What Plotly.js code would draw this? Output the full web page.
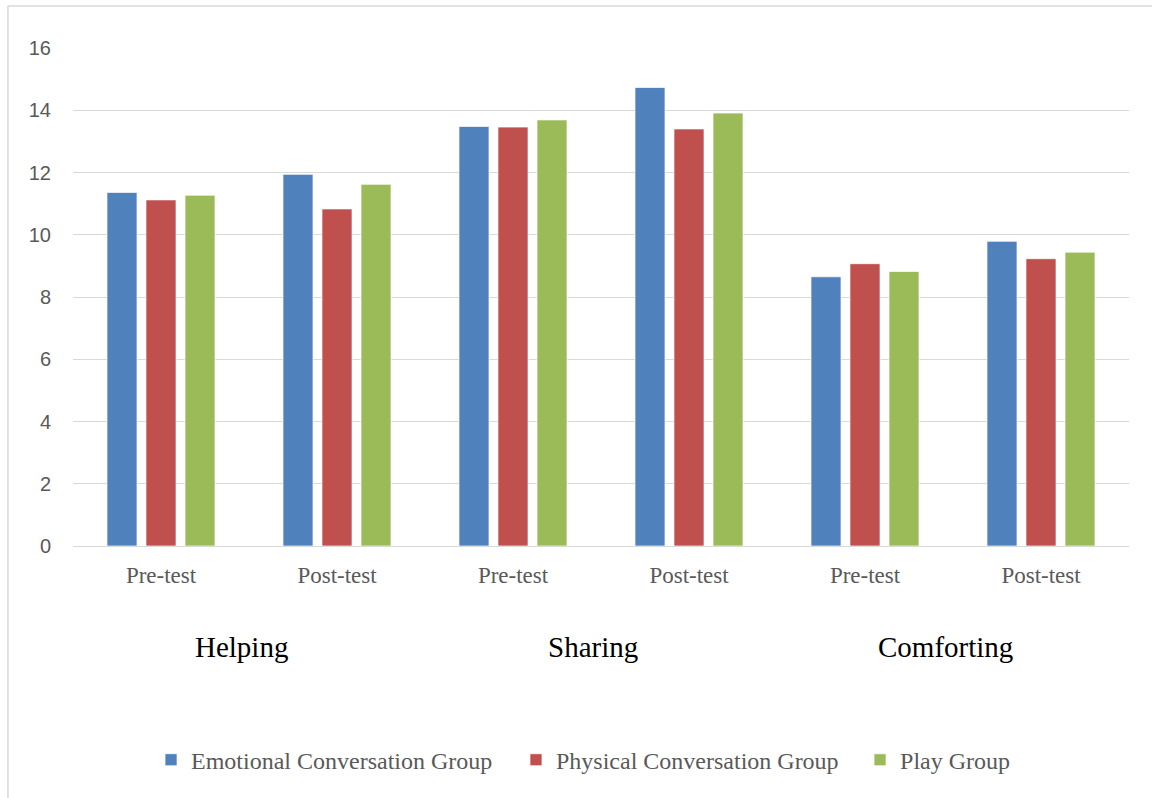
<!DOCTYPE html>
<html>
<head>
<meta charset="utf-8">
<script src="https://cdn.plot.ly/plotly-3.0.1.min.js"></script>
<style>
  html, body { margin: 0; padding: 0; background: #ffffff; }
  #chart { width: 1152px; height: 798px; }
</style>
</head>
<body>
<div id="chart"></div>
<script>
// Behaviour domains and test phases
const domains = ["Helping", "Sharing", "Comforting"];
const phases = ["Pre-test", "Post-test"];

// One category key per domain/phase pair, shown with the phase name only
const categoryKeys = ["Helping Pre", "Helping Post", "Sharing Pre", "Sharing Post", "Comforting Pre", "Comforting Post"];
const tickLabels = ["Pre-test", "Post-test", "Pre-test", "Post-test", "Pre-test", "Post-test"];

// Mean scores per group
const emotionalGroup = [11.36, 11.94, 13.48, 14.73, 8.65, 9.79];
const physicalGroup  = [11.12, 10.83, 13.46, 13.40, 9.07, 9.23];
const playGroup      = [11.27, 11.62, 13.69, 13.91, 8.82, 9.44];

const seriesNames = ["Emotional Conversation Group", "Physical Conversation Group", "Play Group"];
const seriesColors = ["#4F81BD", "#C0504D", "#9BBB59"];
const seriesValues = [emotionalGroup, physicalGroup, playGroup];

// Each series gets its own legend box so the entries can be spaced freely
const legendIds = ["legend", "legend2", "legend3"];
const legendX = [0.0739, 0.4195, 0.7453];

const serif = "Liberation Serif, Times New Roman, serif";

const traces = seriesValues.map((vals, i) => ({
  type: "bar",
  name: seriesNames[i],
  x: categoryKeys,
  y: vals,
  legend: legendIds[i],
  marker: { color: seriesColors[i], line: { color: "rgba(255,255,255,0.7)", width: 1 } },
  hoverinfo: "name+y"
}));

// Domain labels sit under the middle of each Pre/Post pair
const domainAnnotations = domains.map((d, i) => ({
  text: d,
  xref: "x",
  yref: "paper",
  x: i * 2 + 0.457,
  y: -0.203,
  xanchor: "center",
  yanchor: "middle",
  showarrow: false,
  font: { family: serif, size: 29, color: "#000000" }
}));

const layout = {
  width: 1152,
  height: 798,
  margin: { l: 73, r: 23, t: 48, b: 252 },
  paper_bgcolor: "#ffffff",
  plot_bgcolor: "#ffffff",
  barmode: "group",
  bargap: 0.335,
  bargroupgap: 0.23,
  showlegend: true,
  xaxis: {
    type: "category",
    tickmode: "array",
    tickvals: categoryKeys,
    ticktext: tickLabels,
    showgrid: false,
    showline: true,
    linecolor: "#d9d9d9",
    linewidth: 1,
    ticks: "outside",
    ticklen: 8,
    tickcolor: "rgba(0,0,0,0)",
    tickfont: { family: serif, size: 23, color: "#595959" },
    fixedrange: true
  },
  yaxis: {
    range: [0, 16],
    dtick: 2,
    tick0: 0,
    showgrid: true,
    gridcolor: "#d9d9d9",
    gridwidth: 1,
    zeroline: true,
    zerolinecolor: "#d9d9d9",
    zerolinewidth: 1,
    showline: false,
    ticks: "outside",
    ticklen: 17,
    tickcolor: "rgba(0,0,0,0)",
    tickfont: { family: "Liberation Sans, Arial, sans-serif", size: 20, color: "#595959" },
    fixedrange: true
  },
  annotations: domainAnnotations,
  shapes: [
    // chart frame: top and left edges
    { type: "line", xref: "paper", yref: "paper", x0: -0.0616, x1: 1.1, y0: 1.0843, y1: 1.0843,
      line: { color: "#d9d9d9", width: 1.5 } },
    { type: "line", xref: "paper", yref: "paper", x0: -0.0616, x1: -0.0616, y0: 1.0843, y1: -0.6,
      line: { color: "#d9d9d9", width: 1.5 } }
  ]
};

legendIds.forEach((id, i) => {
  layout[id] = {
    orientation: "h",
    x: legendX[i],
    xanchor: "left",
    y: -0.43,
    yanchor: "middle",
    bgcolor: "rgba(0,0,0,0)",
    font: { family: serif, size: 24, color: "#595959" },
    itemwidth: 30
  };
});

Plotly.newPlot("chart", traces, layout, { displayModeBar: false, staticPlot: true });
</script>
</body>
</html>
